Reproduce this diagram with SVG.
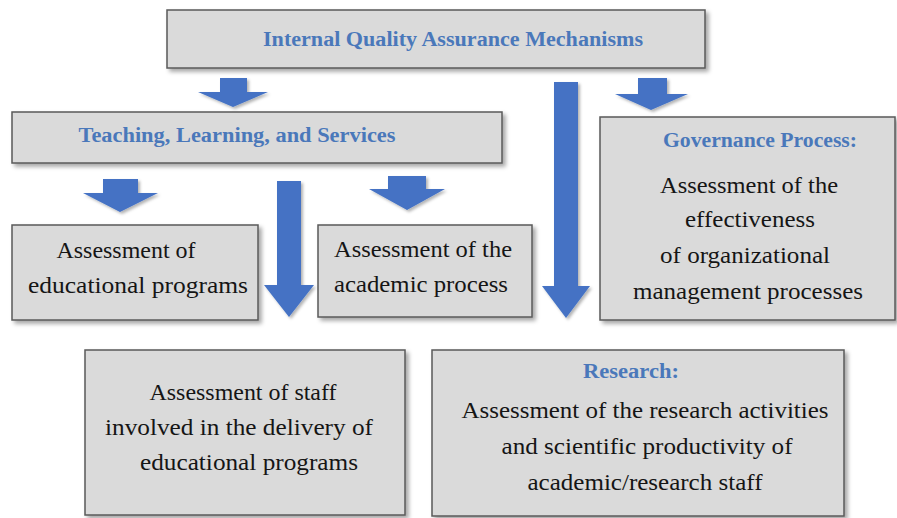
<svg xmlns="http://www.w3.org/2000/svg" width="897" height="518" viewBox="0 0 897 518">
  <defs>
    <filter id="shadow" x="-10%" y="-10%" width="125%" height="130%">
      <feDropShadow dx="3" dy="3" stdDeviation="2" flood-color="#000" flood-opacity="0.35"/>
    </filter>
    <filter id="ashadow" x="-20%" y="-10%" width="150%" height="130%">
      <feDropShadow dx="2" dy="2" stdDeviation="1.5" flood-color="#000" flood-opacity="0.3"/>
    </filter>
  </defs>
  <style>
    .box { fill: #dadada; stroke: #5a5a5a; stroke-width: 1.5; filter: url(#shadow); }
    .head { font-family: "Liberation Serif", "Times New Roman", serif; font-weight: bold; fill: #4a78ba; text-anchor: middle; font-size: 20px; }
    .body { font-family: "Liberation Serif", "Times New Roman", serif; fill: #151515; font-size: 24px; text-anchor: middle; }
    .left { text-anchor: start; }
    .arrow { fill: #4472c4; filter: url(#ashadow); }
  </style>

  <!-- Top node -->
  <g id="node-iqam">
    <rect class="box" x="167" y="10" width="538" height="58"/>
    <text class="head" x="453" y="46" textLength="380" lengthAdjust="spacingAndGlyphs">Internal Quality Assurance Mechanisms</text>
  </g>

  <!-- Teaching, Learning and Services -->
  <g id="node-teaching">
    <rect class="box" x="12" y="112" width="490" height="51"/>
    <text class="head" x="237" y="142" textLength="317" lengthAdjust="spacingAndGlyphs">Teaching, Learning, and Services</text>
  </g>

  <!-- Governance -->
  <g id="node-governance">
    <rect class="box" x="600" y="117" width="295" height="203"/>
    <text class="head" x="760" y="147" textLength="194" lengthAdjust="spacingAndGlyphs">Governance Process:</text>
    <text class="body" x="749" y="193" textLength="178" lengthAdjust="spacingAndGlyphs">Assessment of the</text>
    <text class="body" x="750" y="227" textLength="130" lengthAdjust="spacingAndGlyphs">effectiveness</text>
    <text class="body" x="745" y="263" textLength="170" lengthAdjust="spacingAndGlyphs">of organizational</text>
    <text class="body" x="748" y="299" textLength="230" lengthAdjust="spacingAndGlyphs">management processes</text>
  </g>

  <!-- Educational programs -->
  <g id="node-programs">
    <rect class="box" x="12" y="225" width="246" height="95"/>
    <text class="body" x="126" y="258" textLength="139" lengthAdjust="spacingAndGlyphs">Assessment of</text>
    <text class="body" x="138" y="293" textLength="220" lengthAdjust="spacingAndGlyphs">educational programs</text>
  </g>

  <!-- Academic process -->
  <g id="node-academic">
    <rect class="box" x="318" y="225" width="214" height="92"/>
    <text class="body left" x="334" y="257" textLength="178" lengthAdjust="spacingAndGlyphs">Assessment of the</text>
    <text class="body left" x="334" y="292" textLength="174" lengthAdjust="spacingAndGlyphs">academic process</text>
  </g>

  <!-- Staff -->
  <g id="node-staff">
    <rect class="box" x="85" y="350" width="320" height="165"/>
    <text class="body" x="243" y="400" textLength="187" lengthAdjust="spacingAndGlyphs">Assessment of staff</text>
    <text class="body" x="239" y="435" textLength="268" lengthAdjust="spacingAndGlyphs">involved in the delivery of</text>
    <text class="body" x="249" y="470" textLength="218" lengthAdjust="spacingAndGlyphs">educational programs</text>
  </g>

  <!-- Research -->
  <g id="node-research">
    <rect class="box" x="432" y="350" width="412" height="166"/>
    <text class="head" x="631" y="378" textLength="96" lengthAdjust="spacingAndGlyphs">Research:</text>
    <text class="body" x="645" y="418" textLength="367" lengthAdjust="spacingAndGlyphs">Assessment of the research activities</text>
    <text class="body" x="647" y="454" textLength="291" lengthAdjust="spacingAndGlyphs">and scientific productivity of</text>
    <text class="body" x="645" y="490" textLength="235" lengthAdjust="spacingAndGlyphs">academic/research staff</text>
  </g>

  <!-- Block arrows -->
  <g id="connectors">
    <path class="arrow" d="M220 78 H247 V92 H268 L233 107 L198 92 H220 Z"/>
    <path class="arrow" d="M638 78 H667 V94 H688 L651 110 L615 94 H638 Z"/>
    <path class="arrow" d="M554 82 H578 V286 H590 L566 318 L542 286 H554 Z"/>
    <path class="arrow" d="M103 179 H138 V193 H158 L120 212 L83 193 H103 Z"/>
    <path class="arrow" d="M388 176 H426 V189 H445 L407 210 L369 189 H388 Z"/>
    <path class="arrow" d="M277 181 H301 V285 H314 L289 317 L264 285 H277 Z"/>
  </g>
</svg>
